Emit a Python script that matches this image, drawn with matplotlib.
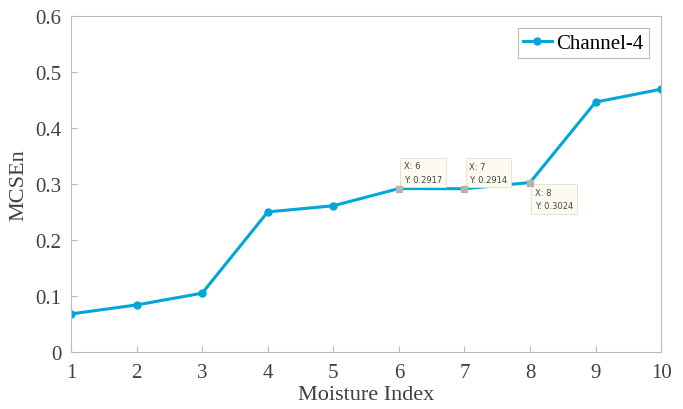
import matplotlib.pyplot as plt

moisture_idx = [1, 2, 3, 4, 5, 6, 7, 8, 9, 10]
mcsen = [0.068, 0.084, 0.105, 0.250, 0.261, 0.2917, 0.2914, 0.3024, 0.446, 0.469]
tip_idx = [6, 7, 8]
tip_val = [0.2917, 0.2914, 0.3024]
tip_offset = [(5, 5), (5, 5), (5, -5)]
tip_va = ['bottom', 'bottom', 'top']

plt.rcParams['font.family'] = 'Liberation Serif'

fig = plt.figure(figsize=(6.83, 4.10), dpi=100)
ax = fig.add_axes([0.104, 0.139, 0.864, 0.82])

# datatip points get square markers instead of circles
circ = [i for i, x in enumerate(moisture_idx) if x not in tip_idx]
ax.plot(moisture_idx, mcsen, color='#00a6d8', lw=2.2, marker='o', ms=5,
        markevery=circ, label='Channel-4')
ax.plot(tip_idx, tip_val, ls='none', marker='s', ms=4.5, color='#b4b4b4', zorder=4)

for x, y, off, va in zip(tip_idx, tip_val, tip_offset, tip_va):
    ax.annotate('X: %d\nY: %.4f' % (x, y), (x, y), xytext=off,
                textcoords='offset pixels', ha='left', va=va,
                fontsize=6, family='DejaVu Sans', color='#444444',
                linespacing=1.6,
                bbox=dict(boxstyle='square,pad=0.45', fc='#fdfbef', ec='#e2e0d0', lw=0.6))

ax.set_xlim(1, 10)
ax.set_ylim(0, 0.6)
ax.set_xticks(moisture_idx)
ax.set_yticks([0, 0.1, 0.2, 0.3, 0.4, 0.5, 0.6])
ax.set_yticklabels(['0', '0.1', '0.2', '0.3', '0.4', '0.5', '0.6'])
ax.tick_params(direction='in', labelsize=15, colors='#bbbbbb', labelcolor='#404040',
               length=4, top=False, right=False)
ax.tick_params(axis='x', pad=8)
ax.tick_params(axis='y', pad=7)
for s in ax.spines.values():
    s.set_color('#bbbbbb')
    s.set_linewidth(0.8)

ax.set_xlabel('Moisture Index', fontsize=16, color='#404040', labelpad=2)
ax.set_ylabel('MCSEn', fontsize=16, color='#404040', labelpad=5)

leg = ax.legend(loc='upper right', fontsize=15, handlelength=1.4, handletextpad=0.2,
                borderpad=0.25, fancybox=False, framealpha=1, borderaxespad=0.6)
leg.get_frame().set_edgecolor('#bbbbbb')
leg.get_frame().set_linewidth(0.8)

fig.savefig('out.png')
